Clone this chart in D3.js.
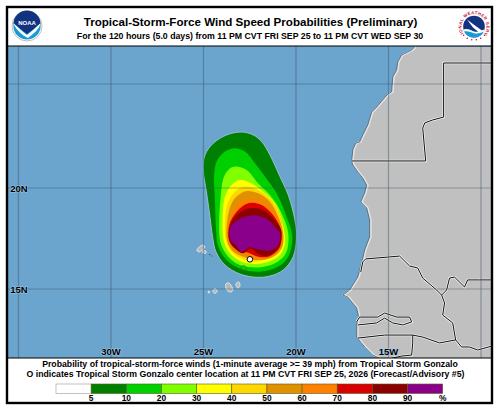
<!DOCTYPE html>
<html>
<head>
<meta charset="utf-8">
<script src="https://cdnjs.cloudflare.com/ajax/libs/d3/7.8.5/d3.min.js"></script>
<style>
	html, body { margin: 0; padding: 0; background: #fff; }
	svg { display: block; }
	text { font-family: "Liberation Sans", Arial, sans-serif; fill: #000; }
</style>
</head>
<body>
<div id="chart"></div>
<script>
var titleText = 'Tropical-Storm-Force Wind Speed Probabilities (Preliminary)';
var subtitleText = 'For the 120 hours (5.0 days) from 11 PM CVT FRI SEP 25 to 11 PM CVT WED SEP 30';
var noteLine1 = 'Probability of tropical-storm-force winds (1-minute average >= 39 mph) from Tropical Storm Gonzalo';
var noteLine2 = 'O indicates Tropical Storm Gonzalo center location at 11 PM CVT FRI SEP 25, 2026 (Forecast/Advisory #5)';

var lonTicks = [-35, -30, -25, -20, -15, -10];
var latTicks = [25, 20, 15];
var lonLabels = [-30, -25, -20, -15];
var latLabels = [20, 15];

var legendLabels = ['5', '10', '20', '30', '40', '50', '60', '70', '80', '90', '%'];
var legendColors = ['#ffffff', '#008000', '#00d000', '#7fff00', '#ffff00', '#ffd700', '#e09000', '#ff8000', '#d80000', '#8b0000', '#8b008b'];

// probability contours, [lon, lat]
var ring5 = [[-22.94,22.69],[-22.31,22.55],[-21.86,22.23],[-21.41,21.59],[-20.87,20.55],[-20.42,19.65],[-20.06,18.42],[-19.97,17.59],[-20.15,16.60],[-20.69,15.94],[-21.41,15.64],[-22.13,15.58],[-23.03,15.74],[-23.84,16.19],[-24.33,16.85],[-24.51,17.59],[-24.65,18.58],[-24.83,19.74],[-25.01,20.87],[-24.92,21.59],[-24.47,22.15],[-23.75,22.55]];
var ring10 = [[-23.30,21.91],[-22.76,21.75],[-22.22,21.19],[-21.68,20.55],[-21.05,19.74],[-20.51,18.58],[-20.20,17.59],[-20.42,16.60],[-20.96,16.11],[-21.95,15.86],[-23.03,16.02],[-23.75,16.44],[-24.20,17.10],[-24.33,18.09],[-24.38,19.41],[-24.43,20.55],[-24.29,21.27],[-23.84,21.75]];
var ring20 = [[-23.30,21.03],[-22.67,20.87],[-22.04,20.22],[-21.41,19.65],[-20.87,18.91],[-20.42,17.76],[-20.55,16.77],[-21.14,16.27],[-22.04,16.07],[-23.03,16.19],[-23.66,16.60],[-24.07,17.26],[-24.15,18.42],[-24.07,19.57],[-23.93,20.46],[-23.66,20.87]];
var ring30 = [[-23.03,20.38],[-22.40,20.22],[-21.77,19.82],[-21.14,19.24],[-20.69,18.09],[-20.60,17.26],[-20.87,16.68],[-21.50,16.35],[-22.22,16.24],[-22.94,16.35],[-23.57,16.77],[-23.89,17.34],[-23.97,18.42],[-23.84,19.57],[-23.48,20.14]];
var ring40 = [[-22.85,20.06],[-22.22,19.98],[-21.50,19.57],[-20.96,18.91],[-20.69,17.92],[-20.69,17.26],[-21.05,16.68],[-21.77,16.44],[-22.22,16.35],[-22.85,16.47],[-23.48,16.85],[-23.79,17.43],[-23.84,18.25],[-23.70,19.24],[-23.30,19.82]];
var ring50 = [[-22.67,19.85],[-22.04,19.74],[-21.41,19.32],[-20.96,18.58],[-20.69,17.67],[-20.78,17.01],[-21.41,16.52],[-22.22,16.44],[-22.76,16.57],[-23.39,16.85],[-23.71,17.34],[-23.71,18.42],[-23.48,19.24],[-23.12,19.65]];
var ring60 = [[-22.58,19.41],[-21.95,19.41],[-21.32,18.99],[-20.87,18.33],[-20.73,17.67],[-20.83,17.10],[-21.50,16.57],[-22.13,16.52],[-22.67,16.63],[-23.30,16.93],[-23.62,17.43],[-23.61,18.25],[-23.30,18.99],[-22.94,19.32]];
var ring70 = [[-22.58,19.24],[-21.95,19.19],[-21.32,18.75],[-20.87,18.09],[-20.78,17.59],[-20.91,17.01],[-21.50,16.60],[-22.04,16.60],[-22.58,16.80],[-23.30,17.01],[-23.62,17.43],[-23.61,18.17],[-23.21,18.83]];
var ring80 = [[-22.58,18.99],[-21.86,18.94],[-21.23,18.50],[-20.83,18.00],[-20.78,17.59],[-20.91,17.10],[-21.41,16.68],[-21.95,16.68],[-22.45,17.01],[-22.85,16.77],[-23.30,17.01],[-23.61,17.43],[-23.57,18.09],[-23.21,18.66]];
var ring90 = [[-22.58,18.61],[-22.04,18.61],[-21.50,18.42],[-21.14,18.05],[-20.87,17.76],[-20.91,17.29],[-21.37,16.90],[-21.86,16.93],[-22.22,17.01],[-22.58,17.06],[-22.94,16.85],[-23.30,17.23],[-23.53,17.39],[-23.53,18.09],[-23.12,18.42]];
var contourRings = [ring5, ring10, ring20, ring30, ring40, ring50, ring60, ring70, ring80, ring90];
var stormCenter = [-22.49, 16.47];

// land and borders
var coast = [[-13.59,26.78],[-13.75,26.63],[-14.29,26.39],[-14.50,26.06],[-14.56,25.67],[-14.77,25.34],[-14.83,24.62],[-15.04,24.52],[-15.64,23.89],[-15.91,23.65],[-16.12,23.03],[-16.39,22.55],[-16.56,22.21],[-16.77,22.16],[-16.93,21.83],[-16.99,21.30],[-16.93,21.11],[-16.66,20.77],[-16.39,20.48],[-16.18,20.14],[-16.29,19.75],[-16.50,19.31],[-16.18,19.01],[-16.02,18.42],[-16.02,17.57],[-16.29,16.93],[-16.45,16.29],[-16.66,15.59],[-17.10,14.95],[-17.47,14.70],[-17.20,14.60],[-16.72,14.06],[-16.61,13.61],[-16.72,13.22],[-16.72,12.62],[-16.29,12.13],[-15.85,11.73],[-15.31,11.49]];
var landEdge = [[-9, 11.49], [-9, 26.78]];
var borders = [
	[[-16.99,21.30],[-12.99,21.30],[-13.15,22.88],[-13.04,23.13],[-12.61,23.27],[-12.02,23.41],[-12.02,26.01],[-9,26.01]],
	[[-16.50,15.84],[-16.39,16.34],[-16.23,16.49],[-15.04,16.58],[-14.40,16.63],[-13.86,16.14],[-13.42,16.04],[-13.15,15.54],[-12.40,14.95],[-12.13,14.70],[-11.86,14.95],[-11.70,15.54],[-11.43,15.59],[-10.89,15.10],[-10.72,15.45],[-10.08,15.45],[-9,15.45]],
	[[-12.13,14.70],[-11.97,14.31],[-12.07,13.71],[-11.53,13.32],[-11.37,12.48],[-12.24,12.33],[-13.15,12.62],[-13.69,12.72],[-15.21,12.72],[-16.66,12.57]],
	[[-11.37,12.48],[-11.05,12.13],[-10.62,12.13],[-10.18,11.98],[-9,12.28]],
	[[-16.72,13.37],[-16.56,13.61],[-15.58,13.61],[-15.21,13.81],[-14.55,13.61],[-13.86,13.61],[-13.75,13.37],[-14.23,13.22],[-14.77,13.32],[-15.21,13.56],[-15.64,13.32],[-16.66,13.22]],
	[[-13.69,12.72],[-13.69,12.33],[-13.75,11.73],[-14.29,11.68],[-15.21,11.50]]
];
var islands = [
	[[-25.36,16.93],[-25.03,17.18],[-24.92,17.08],[-25.25,16.83]],
	[[-25.03,16.88],[-24.87,16.88],[-24.87,16.78],[-25.03,16.78]],
	[[-23.25,15.25],[-23.09,15.35],[-23.03,15.15],[-23.14,15.05]],
	[[-23.79,15.25],[-23.63,15.30],[-23.41,14.95],[-23.52,14.85],[-23.74,14.95]],
	[[-24.50,14.90],[-24.38,15.02],[-24.26,14.90],[-24.38,14.78]],
	[[-24.76,14.85],[-24.71,14.91],[-24.66,14.85],[-24.71,14.79]]
];
var islandShoals = [[[-24.70,16.72],[-24.52,16.62]], [[-24.18,16.60],[-23.98,16.50]]];
var boaVista = [[-22.98,16.04],[-22.82,16.16],[-22.66,16.04],[-22.82,15.90]];

var width = 500, height = 411;
var frame = {left: 7, top: 7, right: 492, bottom: 403, header: 46, map: 358};

var x = d3.scaleLinear().domain([-35, -10]).range([18.5, 481]);
var y = d3.scaleLinear().domain([25, 20, 15]).range([84, 188, 289]);

var svg = d3.select('#chart').append('svg').attr('width', width).attr('height', height);

svg.append('clipPath').attr('id', 'mapClip').append('rect')
	.attr('x', frame.left).attr('y', frame.header)
	.attr('width', frame.right - frame.left).attr('height', frame.map - frame.header);

var map = svg.append('g').attr('clip-path', 'url(#mapClip)');

var geoLine = d3.line().x(function(d) { return x(d[0]); }).y(function(d) { return y(d[1]); });
var smoothRing = d3.line().x(function(d) { return x(d[0]); }).y(function(d) { return y(d[1]); }).curve(d3.curveCatmullRomClosed);

map.append('rect').attr('x', frame.left).attr('y', frame.header)
	.attr('width', frame.right - frame.left).attr('height', frame.map - frame.header)
	.attr('fill', '#6ba4cd');

map.append('path').attr('d', geoLine(coast.concat(landEdge)) + 'Z').attr('fill', '#c0c0c0');
map.append('path').attr('d', geoLine(coast)).attr('fill', 'none').attr('stroke', '#e4e4e4').attr('stroke-width', 2).attr('transform', 'translate(1,0)');
map.append('path').attr('d', geoLine(coast)).attr('fill', 'none').attr('stroke', '#46586a').attr('stroke-width', 0.8);

borders.forEach(function(b) {
	map.append('path').attr('d', geoLine(b)).attr('fill', 'none').attr('stroke', '#f2f2f2').attr('stroke-width', 2.4);
});
borders.forEach(function(b) {
	map.append('path').attr('d', geoLine(b)).attr('fill', 'none').attr('stroke', '#111').attr('stroke-width', 1);
});

islands.forEach(function(r) {
	map.append('path').attr('d', smoothRing(r)).attr('fill', '#b8b8b8').attr('stroke', '#f0f0f0').attr('stroke-width', 0.8);
});
islandShoals.forEach(function(s) {
	map.append('path').attr('d', geoLine(s)).attr('fill', 'none').attr('stroke', '#222').attr('stroke-width', 0.8).attr('stroke-dasharray', '1.5,1.5');
});

// contours, halo only on the outermost ring
contourRings.forEach(function(r, i) {
	map.append('path').attr('d', smoothRing(r)).attr('fill', legendColors[i + 1])
		.attr('stroke', i == 0 ? '#a9c8e8' : 'none').attr('stroke-width', 0.8);
});

map.append('path').attr('d', smoothRing(boaVista)).attr('fill', 'none').attr('stroke', '#4a7a10').attr('stroke-width', 0.8);

// grid over everything in the map
lonTicks.forEach(function(t) {
	map.append('line').attr('x1', x(t)).attr('x2', x(t)).attr('y1', frame.header).attr('y2', frame.map)
		.attr('stroke', '#3c5468').attr('stroke-opacity', 0.45).attr('stroke-width', 1.2);
});
latTicks.forEach(function(t) {
	map.append('line').attr('x1', frame.left).attr('x2', frame.right).attr('y1', y(t)).attr('y2', y(t))
		.attr('stroke', '#3c5468').attr('stroke-opacity', 0.45).attr('stroke-width', 1.2);
});

map.append('circle').attr('cx', x(stormCenter[0])).attr('cy', y(stormCenter[1])).attr('r', 2.8)
	.attr('fill', '#fff').attr('stroke', '#000').attr('stroke-width', 1);

// map labels carry a pale halo
function mapLabel(tx, ty, s) {
	svg.append('text').attr('x', tx).attr('y', ty).attr('text-anchor', 'middle')
		.attr('font-size', 9.5).attr('font-weight', 'bold')
		.style('paint-order', 'stroke').style('stroke', '#a8d0ee').style('stroke-width', 1.2).style('stroke-opacity', 0.8)
		.text(s);
}
lonLabels.forEach(function(t) { mapLabel(x(t), 354.5, Math.abs(t) + 'W'); });
latLabels.forEach(function(t) { mapLabel(19, y(t) + 3.5, t + 'N'); });

// white strips and frame
svg.append('path').attr('fill', 'none').attr('stroke', '#000').attr('stroke-width', 1.2)
	.attr('d', 'M' + frame.left + ' ' + frame.header + 'H' + frame.right + 'M' + frame.left + ' ' + frame.map + 'H' + frame.right);
svg.append('rect').attr('x', frame.left).attr('y', frame.top)
	.attr('width', frame.right - frame.left).attr('height', frame.bottom - frame.top)
	.attr('fill', 'none').attr('stroke', '#000').attr('stroke-width', 2.4);

svg.append('text').attr('x', 250.5).attr('y', 25.5).attr('text-anchor', 'middle')
	.attr('font-size', 11.6).attr('font-weight', 'bold').text(titleText);
svg.append('text').attr('x', 250).attr('y', 38.5).attr('text-anchor', 'middle')
	.attr('font-size', 8.75).attr('font-weight', 'bold').text(subtitleText);
svg.append('text').attr('x', 250).attr('y', 367).attr('text-anchor', 'middle')
	.attr('font-size', 8.72).attr('font-weight', 'bold').text(noteLine1);
svg.append('text').attr('x', 245.5).attr('y', 377).attr('text-anchor', 'middle')
	.attr('font-size', 8.72).attr('font-weight', 'bold').text(noteLine2);

// legend
var legendX = d3.scaleLinear().domain([0, legendColors.length]).range([56, 442.7]);
legendColors.forEach(function(c, i) {
	svg.append('rect').attr('x', legendX(i)).attr('y', 384)
		.attr('width', legendX(i + 1) - legendX(i)).attr('height', 9.5)
		.attr('fill', c).attr('stroke', i == 0 ? '#999' : '#5a5a20').attr('stroke-width', 0.6);
	svg.append('text').attr('x', legendX(i + 1)).attr('y', 401).attr('text-anchor', 'middle')
		.attr('font-size', 8.4).attr('font-weight', 'bold').text(legendLabels[i]);
});

// NOAA logo
var noaa = svg.append('g').attr('transform', 'translate(27,26)');
noaa.append('circle').attr('r', 15).attr('fill', '#fff').attr('stroke', '#aaa').attr('stroke-width', 0.8);
noaa.append('circle').attr('r', 13.6).attr('fill', '#1a9ad6');
noaa.append('path').attr('fill', '#12337f').attr('d', 'M-13.6 -2A13.6 13.6 0 0 1 13.6 -2C8 2 4 5 0 8C-4 5 -8 2 -13.6 -2Z');
noaa.append('path').attr('fill', '#fff').attr('d', 'M-13.6 -3C-9 1 -4 6 0 9C4 6 9 1 13.6 -3C12 4 6 8 1 12C-5 9 -11 4 -13.6 -3Z');
noaa.append('text').attr('x', 0).attr('y', -1).attr('text-anchor', 'middle').attr('font-size', 6)
	.attr('font-weight', 'bold').style('fill', '#fff').text('NOAA');

// NWS logo
var nws = svg.append('g').attr('transform', 'translate(474,26.5)');
nws.append('circle').attr('r', 15.5).attr('fill', '#fff');
nws.append('path').attr('id', 'nwsRing').attr('fill', 'none').attr('d', 'M-10 7.5A12.5 12.5 0 1 1 10 7.5');
nws.append('text').attr('font-size', 4.3).attr('font-weight', 'bold').attr('text-anchor', 'middle').style('fill', '#c8102e')
	.append('textPath').attr('href', '#nwsRing').attr('startOffset', '50%')
	.attr('letter-spacing', 0.35).text('NATIONAL WEATHER SERVICE');
d3.range(-50, 51, 20).forEach(function(a) {
	var r = a * Math.PI / 180;
	nws.append('circle').attr('cx', 13.5 * Math.sin(r)).attr('cy', 13.5 * Math.cos(r)).attr('r', 0.8).attr('fill', '#c8102e');
});
nws.append('circle').attr('r', 10.8).attr('fill', '#12337f');
nws.append('path').attr('fill', '#1a9ad6').attr('d', 'M-10.5 3C-5 1 -2 5 2 5C5 5 8 3 10.5 3A10.8 10.8 0 0 1 -10.5 3Z');
nws.append('path').attr('fill', '#fff').attr('d', 'M-7 -7L1 -1L8 4L5 6L-1 1Z');
nws.append('path').attr('fill', '#fff').attr('d', 'M-10.5 3C-5 1 -2 5 2 5.5C5 5.5 8 4 10.5 3L10 5C7 6.5 4 7 1 7C-3 6 -6 4 -10 5Z');
</script>
</body>
</html>
